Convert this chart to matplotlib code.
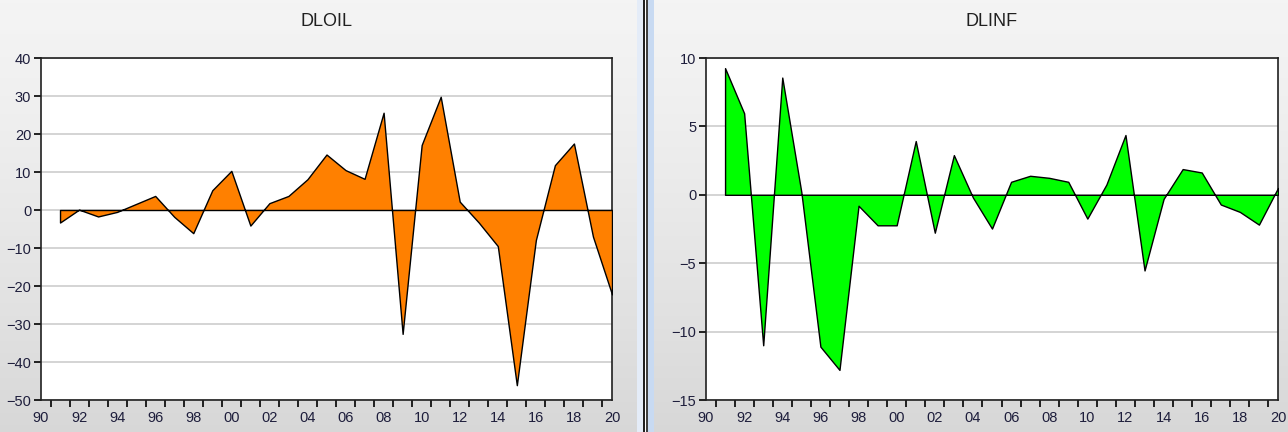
import numpy as np
import matplotlib
matplotlib.use('agg')
from matplotlib import pyplot as plt
from matplotlib.patches import Rectangle

years = list(range(1991, 2021))

dloil = [-3.3, 0.1, -1.7, -0.5, 1.6, 3.7, -1.8, -6.1, 5.2, 10.3,
         -4.1, 1.8, 3.7, 8.1, 14.6, 10.5, 8.2, 25.6, -32.6, 17.1,
         29.8, 2.2, -3.3, -9.5, -46.1, -7.9, 11.8, 17.5, -7.0, -22.2]

dlinf = [9.26, 5.96, -11.0, 8.57, 0.2, -11.1, -12.8, -0.8, -2.23, -2.23,
         3.93, -2.77, 2.9, -0.2, -2.47, 0.95, 1.39, 1.24, 0.95, -1.74,
         0.75, 4.37, -5.53, -0.3, 1.88, 1.63, -0.71, -1.25, -2.18, 0.5]

panels = [
    ("DLOIL", dloil, "#ff8000", (-50, 40), np.arange(-50, 41, 10)),
    ("DLINF", dlinf, "#00ff00", (-15, 10), np.arange(-15, 11, 5)),
]

W, H = 1288, 432
fig = plt.figure(figsize=(W / 100, H / 100), dpi=100)
plt.rcParams['font.family'] = ['Liberation Sans', 'DejaVu Sans']

# background gradient
bg = fig.add_axes([0, 0, 1, 1], zorder=-10)
grad = np.linspace(0, 1, 256).reshape(-1, 1)
top = np.array([0.957, 0.957, 0.957])
bot = np.array([0.845, 0.845, 0.845])
img = top + (bot - top) * grad[..., None] ** 1.3
bg.imshow(img, aspect='auto', extent=[0, 1, 0, 1], origin='upper')
bg.set_xlim(0, 1)
bg.set_ylim(0, 1)
bg.axis('off')

# panel divider
def px_rect(x0, x1, color):
    fig.patches.append(Rectangle((x0 / W, 0), (x1 - x0) / W, 1,
                                 transform=fig.transFigure, color=color,
                                 zorder=-5, lw=0))

px_rect(637, 643, "#e4ecf8")
px_rect(643, 645, "#202020")
px_rect(645, 646, "#ffffff")
px_rect(646, 648, "#404040")
px_rect(648, 654, "#c8daf2")

lefts = [41, 706]
rights = [612, 1278]
ax_top, ax_bot = 58, 400
txt = "#1e1e3c"

for (name, vals, color, ylim, yt), l, r in zip(panels, lefts, rights):
    ax = fig.add_axes([l / W, (H - ax_bot) / H, (r - l) / W, (ax_bot - ax_top) / H])
    ax.set_facecolor("white")
    ax.fill_between(years, vals, 0, facecolor=color, edgecolor="black",
                    linewidth=1.0, zorder=3)
    ax.set_xlim(1990, 2020)
    ax.set_ylim(*ylim)
    ax.set_yticks(yt)
    ax.yaxis.grid(True, color="#d4d4d4", linewidth=1.4, zorder=1)
    ax.set_axisbelow(True)
    labs = list(range(1990, 2021, 2))
    ax.set_xticks(labs)
    ax.set_xticklabels(["%02d" % (y % 100) for y in labs])
    ax.set_xticks(np.arange(1990.5, 2020, 1), minor=True)
    ax.tick_params(axis='x', which='major', length=0, pad=8,
                   labelsize=10.5, colors=txt)
    ax.tick_params(axis='x', which='minor', length=5, width=1.2,
                   direction='out', color="black")
    ax.tick_params(axis='y', length=5, width=1.2, pad=2,
                   labelsize=10.5, labelcolor=txt, color="black")
    for s in ax.spines.values():
        s.set_color("#202020")
        s.set_linewidth(1.2)
    fig.text((l + r) / 2 / W, 1 - 22 / H, name, ha='center', va='center',
             fontsize=13, color="#202020")

fig.savefig("out.png", dpi=100)
